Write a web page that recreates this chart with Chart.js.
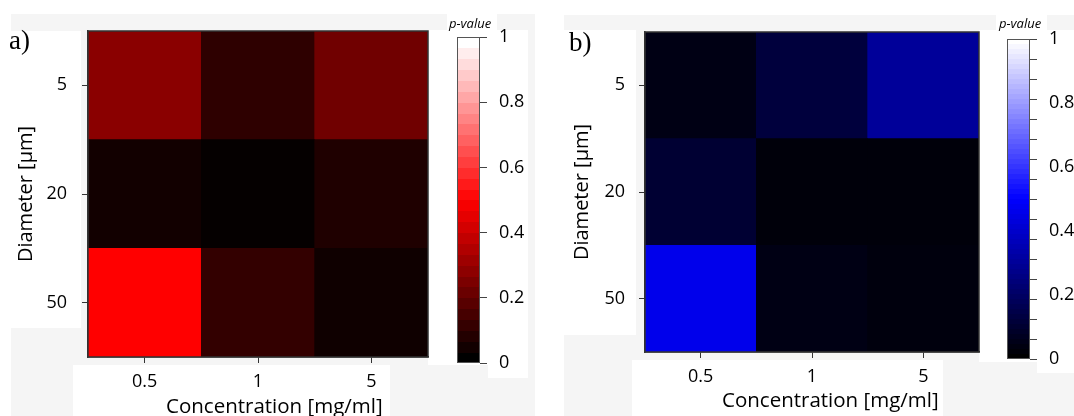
<!DOCTYPE html>
<html><head><meta charset="utf-8">
<script src="https://cdn.jsdelivr.net/npm/chart.js@4.4.0/dist/chart.umd.min.js"></script>
<style>
html,body{margin:0;padding:0;background:#fff;}
#wrap{position:relative;width:1074px;height:416px;overflow:hidden;font-family:"Open Sans",sans-serif;}
.g{position:absolute;background:#f5f5f5;}
.w{position:absolute;background:#fff;}
canvas{position:absolute;top:0;}
.t{position:absolute;white-space:nowrap;color:#000;}
.pl{font-family:"Liberation Serif",serif;font-size:27px;line-height:30px;}
.pv{font-family:"Open Sans",sans-serif;font-style:italic;font-size:13px;line-height:16px;}
.xt{font-family:"Open Sans",sans-serif;font-size:20.5px;line-height:24px;}
</style></head>
<body><div id="wrap">
<div class="g" style="left:11px;top:14px;width:524px;height:402px"></div>
<div class="w" style="left:11px;top:31px;width:70px;height:297px"></div>
<div class="w" style="left:73px;top:365px;width:317px;height:51px"></div>
<div class="w" style="left:428px;top:30px;width:60px;height:335px"></div>
<div class="w" style="left:488px;top:30px;width:40px;height:348px"></div>
<div class="w" style="left:447px;top:14px;width:50px;height:17px"></div>
<div class="g" style="left:564px;top:15px;width:510px;height:401px"></div>
<div class="w" style="left:564px;top:30px;width:72px;height:305px"></div>
<div class="w" style="left:632px;top:360px;width:311px;height:56px"></div>
<div class="w" style="left:979px;top:30px;width:95px;height:332px"></div>
<div class="w" style="left:1037px;top:30px;width:37px;height:343px"></div>
<div class="w" style="left:996px;top:14px;width:51px;height:17px"></div>

<canvas id="hA" width="440" height="416" style="left:0px"></canvas>
<canvas id="cbA" width="100" height="416" style="left:440px"></canvas>
<canvas id="hB" width="450" height="416" style="left:540px"></canvas>
<canvas id="cbB" width="84" height="416" style="left:990px"></canvas>

<div class="t pl" style="left:9px;top:25px">a)</div>
<div class="t pl" style="left:569px;top:27px">b)</div>
<div class="t pv" style="left:449px;top:15px">p-value</div>
<div class="t pv" style="left:999px;top:15px">p-value</div>
<div class="t xt" style="left:166px;top:393px">Concentration [mg/ml]</div>
<div class="t xt" style="left:722px;top:387px">Concentration [mg/ml]</div>
</div>
<script>
// ---- data ----
const concentrations = ['0.5', '1', '5'];
const diameters = ['5', '20', '50'];           // top to bottom
// p-values, panel a (red map)
const pA_d5  = [0.27, 0.09, 0.22];
const pA_d20 = [0.035, 0.01, 0.06];
const pA_d50 = [0.50, 0.10, 0.03];
// p-values, panel b (blue map)
const pB_d5  = [0.04, 0.12, 0.30];
const pB_d20 = [0.10, 0.02, 0.02];
const pB_d50 = [0.46, 0.04, 0.025];
const colorbarTicks = [0, 0.2, 0.4, 0.6, 0.8, 1];
const colorbarMinorTicksB = 16;
const colorbarStepsA = 30;

// ---- colour maps ----
function clamp(v){return Math.max(0,Math.min(1,v));}
function rgb(r,g,b){return 'rgb('+Math.round(r)+','+Math.round(g)+','+Math.round(b)+')';}
function redMap(v){v=clamp(v); if(v<=0.5) return rgb(510*v,0,0); const t=(v-0.5)/0.5; return rgb(255,255*t,255*t);}
function blueMap(v){v=clamp(v); if(v<=0.5) return rgb(0,0,510*v); const t=(v-0.5)/0.5; return rgb(255*t,255*t,255);}

const FONT = '"Open Sans", sans-serif';
const AX = '#333';

const framePlugin = {
  id: 'frame',
  afterDatasetsDraw(chart){
    const {ctx, chartArea:a} = chart;
    ctx.save(); ctx.strokeStyle = AX; ctx.lineWidth = 1.5;
    ctx.strokeRect(a.left, a.top, a.right-a.left, a.bottom-a.top);
    ctx.restore();
  }
};

function heatmap(id, rows, map, geom){
  // rows: top-to-bottom arrays; datasets stacked bottom-up
  const ordered = rows.slice().reverse();
  const labelsOrdered = diameters.slice().reverse();
  const datasets = ordered.map((r, i) => ({
    label: labelsOrdered[i],
    data: concentrations.map(() => 1),
    backgroundColor: r.map(map),
    borderWidth: 0,
    barPercentage: 1,
    categoryPercentage: 1
  }));
  return new Chart(document.getElementById(id), {
    type: 'bar',
    data: {labels: concentrations, datasets},
    plugins: [framePlugin],
    options: {
      responsive: false, animation: false,
      layout: {padding: {left: 0, top: geom.top, right: geom.right, bottom: 0}},
      plugins: {legend: {display: false}, tooltip: {enabled: false}},
      scales: {
        x: {
          stacked: true, offset: true,
          afterFit: s => { s.height = geom.xh; },
          grid: {display: true, drawOnChartArea: false, drawTicks: true, tickLength: 6, color: AX, offset: false},
          border: {display: true, color: AX, width: 1.5},
          ticks: {color: '#000', padding: 8, font: {family: FONT, size: 18}},
          title: {display: false}
        },
        y: {
          stacked: true, min: 0, max: diameters.length,
          afterFit: s => { s.width = geom.yw; },
          afterBuildTicks: s => { s.ticks = diameters.map((d, i) => ({value: diameters.length - 0.5 - i})); },
          grid: {display: true, drawOnChartArea: false, drawTicks: true, tickLength: 6, color: AX},
          border: {display: true, color: AX, width: 1.5},
          ticks: {color: '#000', padding: geom.ypad, font: {family: FONT, size: 18},
                  callback: v => diameters[Math.round(diameters.length - 0.5 - v)]},
          title: {display: true, text: 'Diameter [µm]', color: '#000',
                  font: {family: FONT, size: 20, lineHeight: 1}, padding: {top: geom.ytpad, bottom: 0}}
        }
      }
    }
  });
}

const cbarPlugin = {
  id: 'cbar',
  beforeDatasetsDraw(chart, args, opts){
    const {ctx, chartArea:a} = chart;
    const y = chart.scales.y;
    const n = opts.steps;
    ctx.save();
    for (let i = 0; i < n; i++) {
      const yt = y.getPixelForValue((i+1)/n), yb = y.getPixelForValue(i/n);
      ctx.fillStyle = opts.map(n > 1 ? i/(n-1) : 0);
      ctx.fillRect(a.left, Math.floor(yt), a.right-a.left, Math.ceil(yb)-Math.floor(yt));
    }
    if (opts.minor) {
      ctx.strokeStyle = '#444'; ctx.lineWidth = 1;
      for (let k = 0; k <= opts.minor; k++) {
        const py = Math.round(y.getPixelForValue(k/opts.minor)) + 0.5;
        ctx.beginPath(); ctx.moveTo(a.right, py); ctx.lineTo(a.right+7, py); ctx.stroke();
      }
    }
    ctx.strokeStyle = '#555'; ctx.lineWidth = 1;
    ctx.strokeRect(a.left+0.5, a.top+0.5, a.right-a.left-1, a.bottom-a.top-1);
    ctx.restore();
  }
};

function colorbar(id, map, steps, minor, geom){
  return new Chart(document.getElementById(id), {
    type: 'scatter',
    data: {datasets: []},
    plugins: [cbarPlugin],
    options: {
      responsive: false, animation: false,
      layout: {padding: {left: geom.left, top: geom.top, right: 0, bottom: geom.bottom}},
      plugins: {legend: {display: false}, tooltip: {enabled: false}, cbar: {map, steps, minor}},
      scales: {
        x: {display: false, min: 0, max: 1},
        y: {
          position: 'right', min: 0, max: 1,
          afterFit: s => { s.width = geom.yw; },
          afterBuildTicks: s => { s.ticks = colorbarTicks.map(v => ({value: v})); },
          grid: {display: true, drawOnChartArea: false, drawTicks: true, tickLength: 7,
                 color: minor ? 'rgba(0,0,0,0)' : '#444'},
          border: {display: false},
          ticks: {color: '#000', padding: 12, font: {family: FONT, size: 18},
                  callback: v => String(Math.round(v*10)/10)}
        }
      }
    }
  });
}

heatmap('hA', [pA_d5, pA_d20, pA_d50], redMap, {top: 31, right: 12, xh: 59, yw: 88, ypad: 15, ytpad: 16});
heatmap('hB', [pB_d5, pB_d20, pB_d50], blueMap, {top: 32, right: 11, xh: 64, yw: 105, ypad: 14, ytpad: 32});
colorbar('cbA', redMap, colorbarStepsA, 0, {left: 17, top: 37, bottom: 53, yw: 60});
colorbar('cbB', blueMap, 64, colorbarMinorTicksB, {left: 17, top: 39, bottom: 57, yw: 44});
</script>
</body></html>
